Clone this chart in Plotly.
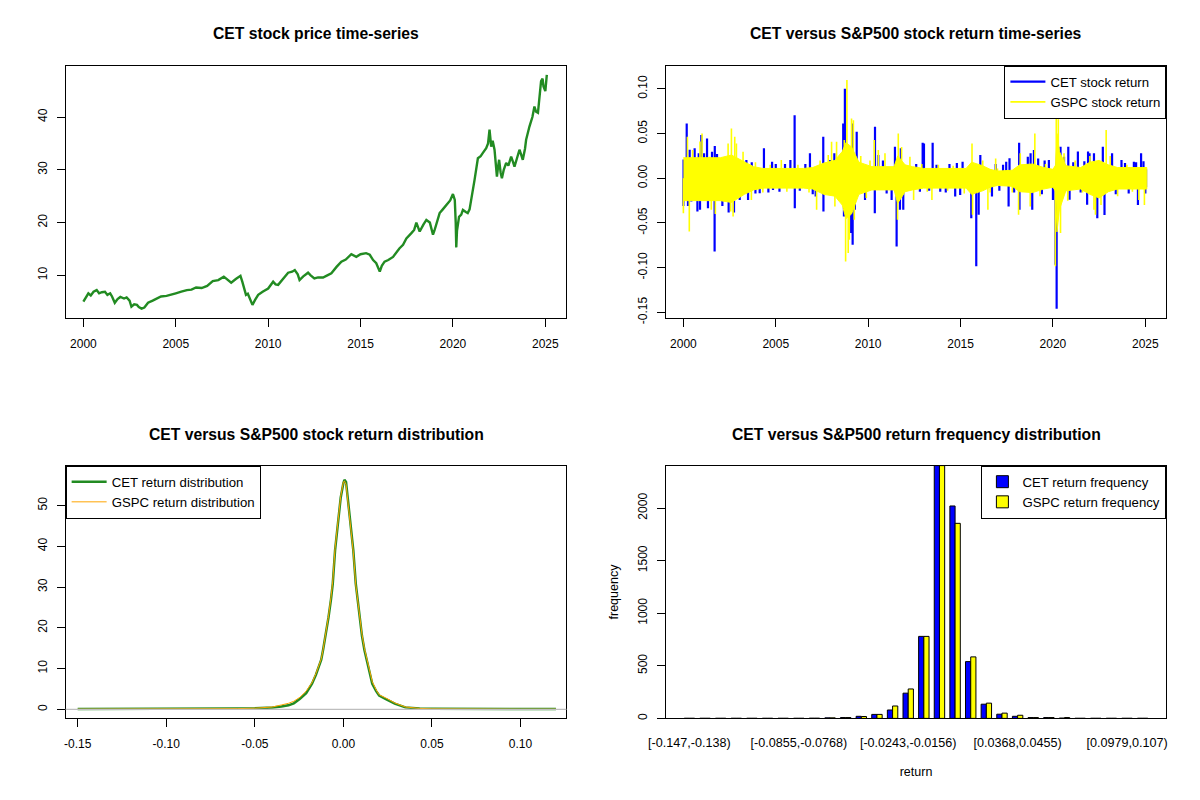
import plotly.graph_objects as go
from plotly.subplots import make_subplots

# ---- CET price (decimal years) ----
price_years = [
    2000.0, 2000.1, 2000.27, 2000.4, 2000.55, 2000.72, 2000.85, 2001.0, 2001.17, 2001.3,
    2001.45, 2001.55, 2001.7, 2001.85, 2002.0, 2002.2, 2002.34, 2002.5, 2002.6, 2002.75,
    2002.9, 2003.0, 2003.15, 2003.3, 2003.5, 2003.75, 2003.96, 2004.2, 2004.5, 2004.75,
    2005.0, 2005.3, 2005.6, 2005.85, 2006.1, 2006.4, 2006.7, 2007.0, 2007.3, 2007.6,
    2007.8, 2008.0, 2008.25, 2008.5, 2008.6, 2008.7, 2008.8, 2008.9, 2009.0, 2009.15,
    2009.3, 2009.46, 2009.7, 2010.0, 2010.27, 2010.4, 2010.54, 2010.8, 2011.08, 2011.3,
    2011.44, 2011.6, 2011.7, 2011.9, 2012.16, 2012.3, 2012.5, 2012.7, 2012.97, 2013.2,
    2013.42, 2013.7, 2013.96, 2014.2, 2014.5, 2014.77, 2015.0, 2015.3, 2015.5, 2015.68,
    2015.85, 2016.04, 2016.15, 2016.3, 2016.5, 2016.76, 2017.1, 2017.3, 2017.48, 2017.75,
    2017.9, 2018.02, 2018.2, 2018.4, 2018.56, 2018.75, 2018.92, 2019.0, 2019.28, 2019.45,
    2019.64, 2019.85, 2020.0, 2020.1, 2020.15, 2020.18, 2020.22, 2020.33, 2020.45, 2020.54,
    2020.7, 2020.8, 2020.9, 2021.0, 2021.17, 2021.35, 2021.5, 2021.62, 2021.8, 2021.9,
    2021.98, 2022.07, 2022.15, 2022.25, 2022.32, 2022.38, 2022.44, 2022.5, 2022.58, 2022.65,
    2022.75, 2022.88, 2023.0, 2023.15, 2023.25, 2023.33, 2023.45, 2023.6, 2023.7, 2023.78,
    2023.9, 2023.96, 2024.14, 2024.3, 2024.41, 2024.5, 2024.6, 2024.7, 2024.77, 2024.85,
    2024.9, 2025.0, 2025.08,
]
price_values = [
    5.0, 5.6, 6.6, 6.2, 6.9, 7.2, 6.6, 6.8, 6.9, 6.3,
    6.6, 6.0, 4.8, 5.5, 5.9, 5.6, 5.8, 5.2, 4.05, 4.5,
    4.4, 4.0, 3.7, 3.9, 4.8, 5.2, 5.6, 6.0, 6.1, 6.3,
    6.6, 6.9, 7.2, 7.3, 7.7, 7.6, 8.0, 8.9, 9.1, 9.75,
    9.2, 8.6, 9.3, 9.9, 8.8, 7.5, 6.3, 6.5, 5.6, 4.4,
    5.4, 6.3, 6.9, 7.5, 8.8, 8.3, 8.2, 9.3, 10.5, 10.7,
    11.0, 10.2, 9.1, 9.8, 10.5, 10.0, 9.4, 9.6, 9.6, 10.0,
    10.4, 11.6, 12.6, 13.0, 14.0, 13.5, 14.0, 14.2, 13.9, 12.9,
    12.3, 10.7, 11.8, 12.6, 12.9, 13.5, 15.1, 15.8, 17.0, 18.0,
    18.6, 20.0, 18.3, 19.6, 20.5, 20.0, 17.7, 18.5, 21.8, 22.5,
    23.4, 24.2, 25.4, 24.3, 20.0, 15.3, 18.5, 21.1, 21.5, 22.4,
    22.0, 21.8, 22.5, 24.9, 28.1, 32.2, 32.6, 33.2, 34.1, 35.0,
    37.6, 34.4, 35.5, 33.8, 31.0, 28.7, 30.5, 31.9, 29.5, 28.4,
    30.0, 31.3, 30.8, 32.5, 31.5, 30.6, 32.0, 33.8, 32.8, 31.9,
    34.0, 35.7, 38.2, 40.0, 42.0, 41.0, 40.8, 44.0, 46.8, 47.3,
    45.8, 44.9, 48.0,
]

# ---- daily returns: dense core band (upper / lower edge) ----
band_years = [
    2000.0, 2001.0, 2002.0, 2002.6, 2003.3, 2003.8, 2004.3, 2005.0, 2006.0, 2006.5,
    2007.0, 2007.6, 2008.2, 2008.6, 2008.8, 2009.1, 2009.5, 2010.2, 2011.4, 2011.6,
    2012.0, 2012.4, 2013.0, 2014.0, 2015.3, 2015.6, 2016.2, 2016.6, 2017.0, 2017.8,
    2018.2, 2018.9, 2019.5, 2020.0, 2020.15, 2020.22, 2020.35, 2020.7, 2021.5, 2022.0,
    2022.5, 2023.0, 2023.5, 2024.0, 2025.08,
]
gspc_hi = [
    0.023, 0.023, 0.023, 0.026, 0.018, 0.013, 0.011, 0.011, 0.011, 0.011,
    0.012, 0.017, 0.020, 0.030, 0.040, 0.035, 0.018, 0.013, 0.013, 0.025,
    0.015, 0.013, 0.011, 0.011, 0.011, 0.018, 0.014, 0.010, 0.008, 0.009,
    0.015, 0.016, 0.012, 0.010, 0.015, 0.050, 0.030, 0.014, 0.012, 0.018,
    0.020, 0.015, 0.012, 0.012, 0.012,
]
gspc_lo = [
    -0.025, -0.025, -0.025, -0.027, -0.018, -0.013, -0.011, -0.011, -0.011, -0.011,
    -0.012, -0.018, -0.020, -0.030, -0.045, -0.040, -0.018, -0.013, -0.013, -0.028,
    -0.015, -0.013, -0.011, -0.011, -0.011, -0.018, -0.014, -0.010, -0.008, -0.009,
    -0.015, -0.016, -0.012, -0.010, -0.015, -0.060, -0.035, -0.014, -0.012, -0.018,
    -0.022, -0.015, -0.012, -0.012, -0.012,
]
cet_hi = [
    0.019, 0.019, 0.019, 0.021, 0.015, 0.011, 0.009, 0.009, 0.009, 0.009,
    0.010, 0.014, 0.017, 0.025, 0.034, 0.030, 0.015, 0.011, 0.011, 0.021,
    0.013, 0.011, 0.009, 0.009, 0.009, 0.015, 0.012, 0.009, 0.007, 0.008,
    0.013, 0.014, 0.010, 0.009, 0.013, 0.042, 0.025, 0.012, 0.010, 0.015,
    0.017, 0.013, 0.010, 0.010, 0.010,
]
cet_lo = [
    -0.021, -0.021, -0.021, -0.022, -0.015, -0.011, -0.009, -0.009, -0.009, -0.009,
    -0.010, -0.015, -0.017, -0.025, -0.038, -0.034, -0.015, -0.011, -0.011, -0.024,
    -0.013, -0.011, -0.009, -0.009, -0.009, -0.015, -0.012, -0.009, -0.007, -0.008,
    -0.013, -0.014, -0.010, -0.009, -0.013, -0.050, -0.030, -0.012, -0.010, -0.015,
    -0.019, -0.013, -0.010, -0.010, -0.010,
]

# ---- daily returns: single days standing out of the band ----
cet_spike_years = [
    2000.0, 2000.01, 2000.18, 2000.25, 2000.34, 2000.43, 2000.61, 2000.76, 2000.83, 2000.9,
    2000.97, 2001.12, 2001.28, 2001.33, 2001.55, 2001.69, 2001.7, 2001.82, 2002.11, 2002.45,
    2002.74, 2003.05, 2003.41, 2003.5, 2003.7, 2003.9, 2004.13, 2004.36, 2004.6, 2004.8,
    2004.85, 2005.0, 2005.2, 2005.5, 2005.79, 2006.02, 2006.03, 2006.3, 2006.6, 2006.85,
    2007.0, 2007.16, 2007.57, 2007.58, 2007.93, 2008.17, 2008.65, 2008.69, 2008.74, 2009.07,
    2009.14, 2009.16, 2009.28, 2009.38, 2009.83, 2010.36, 2010.37, 2010.55, 2010.8, 2011.0,
    2011.27, 2011.45, 2011.54, 2011.72, 2011.77, 2011.9, 2012.6, 2012.8, 2012.95, 2013.02,
    2013.3, 2013.49, 2013.7, 2013.9, 2014.2, 2014.4, 2014.71, 2014.8, 2014.98, 2015.11,
    2015.58, 2015.85, 2015.98, 2016.07, 2016.7, 2016.9, 2017.1, 2017.3, 2017.47, 2017.6,
    2017.65, 2017.9, 2018.17, 2018.19, 2018.64, 2018.79, 2018.88, 2018.97, 2019.2, 2019.4,
    2019.55, 2019.78, 2020.0, 2020.14, 2020.2, 2020.41, 2020.6, 2020.83, 2020.9, 2021.1,
    2021.35, 2021.5, 2021.7, 2021.85, 2021.9, 2021.98, 2022.22, 2022.4, 2022.7, 2022.79,
    2023.2, 2023.4, 2023.71, 2023.9, 2024.1, 2024.38, 2024.5, 2024.6, 2024.77, 2024.9,
    2025.0,
]
cet_spike_values = [
    -0.031, 0.021, 0.0613, -0.031, 0.032, -0.026, 0.0335, -0.0372, 0.0279, -0.0353,
    0.0483, 0.0279, 0.0446, -0.0335, 0.0297, -0.0818, 0.036, 0.0271, -0.0309, -0.0383,
    -0.0383, -0.0242, 0.0204, -0.0242, 0.018, -0.017, -0.0167, 0.0335, -0.016, 0.0186,
    -0.013, 0.016, -0.015, 0.016, 0.0204, 0.0706, -0.0335, -0.014, 0.016, 0.0279,
    -0.018, -0.0204, 0.0465, -0.0372, 0.0204, 0.0279, 0.0613, -0.0428, 0.100, -0.0613,
    0.0613, -0.0743, -0.0353, 0.052, -0.0242, -0.039, 0.0576, 0.026, 0.020, -0.017,
    -0.0242, 0.0353, -0.0762, -0.0353, 0.0335, -0.0353, 0.016, -0.015, 0.0398, 0.039,
    -0.014, 0.0398, 0.015, -0.015, -0.016, 0.016, -0.0204, 0.017, -0.0186, 0.0186,
    -0.0446, -0.0985, -0.0409, 0.026, -0.0204, 0.016, -0.014, 0.015, 0.0186, -0.0316,
    0.0223, -0.016, 0.0398, -0.0353, 0.0242, 0.0279, -0.0353, 0.0316, 0.022, -0.018,
    0.020, 0.0204, -0.0242, -0.0967, -0.146, 0.0353, 0.024, 0.0353, -0.024, 0.018,
    0.030, -0.016, 0.019, -0.0297, 0.030, 0.0279, 0.0279, -0.0446, 0.0353, -0.041,
    0.028, -0.018, 0.0204, 0.017, -0.017, 0.0186, 0.018, -0.030, 0.028, 0.019,
    -0.017,
]
gspc_spike_years = [
    2000.0, 2000.22, 2000.32, 2000.5, 2000.9, 2001.01, 2001.42, 2001.51, 2001.73, 2002.42,
    2002.56, 2002.6, 2002.69, 2002.78, 2002.87, 2003.23, 2003.68, 2003.9, 2004.3, 2004.7,
    2005.3, 2005.6, 2006.2, 2006.8, 2007.21, 2007.4, 2007.84, 2008.02, 2008.2, 2008.29,
    2008.71, 2008.78, 2008.85, 2008.92, 2008.98, 2009.1, 2009.2, 2009.25, 2009.6, 2009.9,
    2010.1, 2010.33, 2010.55, 2010.91, 2011.59, 2011.63, 2011.81, 2012.26, 2012.46, 2012.9,
    2013.2, 2013.45, 2013.8, 2014.3, 2014.6, 2015.2, 2015.62, 2015.65, 2016.2, 2016.48,
    2016.6, 2016.9, 2017.0, 2017.8, 2018.14, 2018.23, 2018.77, 2019.02, 2019.3, 2019.6,
    2020.13, 2020.18, 2020.29, 2020.41, 2020.6, 2020.8, 2021.2, 2021.6, 2022.0, 2022.22,
    2022.3, 2022.6, 2022.88, 2023.1, 2023.5, 2024.0, 2024.3, 2024.65, 2024.95,
]
gspc_spike_values = [
    -0.039, 0.0465, -0.0595, 0.0316, 0.041, 0.0502, 0.0242, -0.0353, -0.040, 0.039,
    -0.0372, 0.0558, -0.0428, 0.0465, 0.039, 0.0297, -0.0242, 0.018, -0.016, 0.015,
    0.0204, -0.015, 0.015, -0.016, -0.0353, 0.020, 0.026, 0.0409, -0.0316, 0.0409,
    0.0428, -0.093, 0.110, -0.0836, -0.0688, 0.0669, 0.065, -0.0465, 0.025, -0.022,
    0.020, 0.0428, 0.0316, 0.0279, -0.0465, 0.0502, 0.035, 0.0242, -0.0242, 0.016,
    -0.015, -0.0242, 0.015, -0.014, 0.014, -0.017, 0.039, -0.0409, 0.020, -0.0353,
    -0.016, 0.022, 0.011, -0.016, -0.0409, 0.0279, -0.0316, 0.0502, -0.020, 0.016,
    -0.0985, 0.0725, 0.066, -0.0613, 0.028, -0.025, 0.020, -0.016, 0.025, -0.0353,
    -0.0409, -0.030, 0.054, 0.025, -0.020, 0.015, -0.015, -0.0242, -0.030,
]

# ---- return density (kernel estimate) ----
dens_x = [
    -0.15, -0.12, -0.10, -0.08, -0.06, -0.05, -0.045, -0.04, -0.035, -0.031,
    -0.028, -0.0245, -0.021, -0.0177, -0.0155, -0.0138, -0.0125, -0.0115, -0.01, -0.0084,
    -0.007, -0.006, -0.0047, -0.0035, -0.0029, -0.0015, 0.0, 0.0006, 0.0015, 0.0025,
    0.0037, 0.0056, 0.007, 0.0091, 0.0105, 0.0119, 0.014, 0.0163, 0.0185, 0.0202,
    0.024, 0.029, 0.035, 0.043, 0.05, 0.06, 0.07, 0.08, 0.10, 0.12,
]
cet_density = [
    0.1, 0.1, 0.1, 0.1, 0.2, 0.3, 0.35, 0.5, 0.7, 1.0,
    1.5, 2.6, 4.0, 6.3, 8.5, 10.4, 12.2, 14.5, 18.0, 22.6,
    27.0, 30.8, 39.0, 44.5, 47.1, 52.0, 55.5, 56.3, 55.8, 52.0,
    47.1, 39.0, 30.8, 22.6, 18.0, 14.5, 10.4, 6.3, 4.5, 3.4,
    2.5, 1.4, 0.5, 0.2, 0.15, 0.12, 0.1, 0.08, 0.08, 0.08,
]
gspc_density = [
    0.05, 0.05, 0.08, 0.1, 0.2, 0.3, 0.4, 0.6, 1.1, 1.5,
    2.0, 3.0, 4.5, 6.6, 8.8, 10.6, 12.4, 14.6, 18.3, 22.9,
    27.5, 31.5, 39.5, 45.0, 47.5, 52.3, 55.8, 56.0, 55.2, 51.5,
    46.5, 38.6, 30.5, 22.8, 18.4, 14.9, 10.8, 6.8, 4.8, 3.6,
    2.8, 1.6, 0.6, 0.25, 0.15, 0.1, 0.1, 0.05, 0.05, 0.05,
]

# ---- histogram (30 bins) ----
bin_ids = list(range(1, 31))
cet_freq = [1, 1, 1, 1, 1, 1, 1, 1, 2, 5, 8, 20, 38, 80, 240,
            780, 2404, 2020, 540, 135, 40, 20, 8, 8, 3, 1, 1, 1, 1, 1]
gspc_freq = [1, 1, 1, 1, 1, 1, 1, 1, 2, 5, 8, 18, 38, 118, 280,
             780, 2404, 1855, 585, 145, 50, 30, 8, 8, 8, 1, 1, 1, 1, 1]
bin_tick_ids = [1, 8, 15, 22, 29]
bin_tick_text = ["[-0.147,-0.138)", "[-0.0855,-0.0768)", "[-0.0243,-0.0156)",
                 "[0.0368,0.0455)", "[0.0979,0.107)"]

year_ticks = [2000, 2005, 2010, 2015, 2020, 2025]
price_ticks = [10, 20, 30, 40]
ret_ticks = [-0.15, -0.10, -0.05, 0.0, 0.05, 0.10]
ret_tick_text = ["-0.15", "-0.10", "-0.05", "0.00", "0.05", "0.10"]
dens_ticks = [0, 10, 20, 30, 40, 50]
freq_ticks = [0, 500, 1000, 1500, 2000]

titles = ["CET stock price time-series", "CET versus S&P500 stock return time-series",
          "CET versus S&P500 stock return distribution", "CET versus S&P500 return frequency distribution"]

FONT = "Liberation Sans, Arial, sans-serif"
BLUE, YELLOW = "#0000FF", "#FFFF00"
GREEN, ORANGE = "#228B22", "#FFA500"

fig = make_subplots(rows=2, cols=2)

# price
fig.add_trace(go.Scatter(x=price_years, y=price_values, mode="lines",
                         line=dict(color=GREEN, width=2.4), showlegend=False), row=1, col=1)


def band(years, hi, lo):
    return years + years[::-1], hi + lo[::-1]


def spikes(years, vals):
    xs, ys = [], []
    for t, v in zip(years, vals):
        xs += [t, t, None]
        ys += [0, v, None]
    return xs, ys


bx, by = band(band_years, cet_hi, cet_lo)
fig.add_trace(go.Scatter(x=bx, y=by, mode="lines", fill="toself", fillcolor=BLUE,
                         line=dict(color=BLUE, width=0.5), showlegend=False), row=1, col=2)
sx, sy = spikes(cet_spike_years, cet_spike_values)
fig.add_trace(go.Scatter(x=sx, y=sy, mode="lines", name="CET stock return", legend="legend",
                         line=dict(color=BLUE, width=2.2)), row=1, col=2)
bx, by = band(band_years, gspc_hi, gspc_lo)
fig.add_trace(go.Scatter(x=bx, y=by, mode="lines", fill="toself", fillcolor=YELLOW,
                         line=dict(color=YELLOW, width=1), showlegend=False), row=1, col=2)
sx, sy = spikes(gspc_spike_years, gspc_spike_values)
fig.add_trace(go.Scatter(x=sx, y=sy, mode="lines", name="GSPC stock return", legend="legend",
                         line=dict(color=YELLOW, width=1.6)), row=1, col=2)

# density
fig.add_shape(type="line", xref="x3 domain", yref="y3", x0=0, x1=1, y0=0, y1=0,
              line=dict(color="#BEBEBE", width=1.2))
fig.add_trace(go.Scatter(x=dens_x, y=cet_density, mode="lines", name="CET return distribution",
                         legend="legend2", line=dict(color=GREEN, width=2.5)), row=2, col=1)
fig.add_trace(go.Scatter(x=dens_x, y=gspc_density, mode="lines", name="GSPC return distribution",
                         legend="legend2", line=dict(color=ORANGE, width=1)), row=2, col=1)

# histogram
fig.add_trace(go.Bar(x=bin_ids, y=cet_freq, name="CET return frequency", legend="legend3",
                     marker=dict(color=BLUE, line=dict(color="black", width=1))), row=2, col=2)
fig.add_trace(go.Bar(x=bin_ids, y=gspc_freq, name="GSPC return frequency", legend="legend3",
                     marker=dict(color=YELLOW, line=dict(color="black", width=1))), row=2, col=2)

xdom = [[0.0547, 0.472], [0.5547, 0.972]]
ydom = [[0.602, 0.918], [0.102, 0.418]]

axis_common = dict(showline=True, mirror=True, linecolor="black", linewidth=1,
                   showgrid=False, zeroline=False, ticks="outside", ticklen=8,
                   tickcolor="black", automargin=False,
                   tickfont=dict(family=FONT, size=12, color="black"))

legend_common = dict(bgcolor="white", bordercolor="black", borderwidth=1,
                     font=dict(family=FONT, size=13.2, color="black"), tracegroupgap=0)
title_font = dict(family=FONT, size=12.5, color="black")

fig.update_layout(
    xaxis=dict(axis_common, domain=xdom[0], range=[1999.04, 2026.14], tickvals=year_ticks,
               ticklabelstandoff=6),
    yaxis=dict(axis_common, domain=ydom[0], range=[1.84, 49.75], tickvals=price_ticks,
               tickangle=-90, ticklabelstandoff=5),
    xaxis2=dict(axis_common, domain=xdom[1], range=[1999.04, 2026.14], tickvals=year_ticks,
                ticklabelstandoff=6),
    yaxis2=dict(axis_common, domain=ydom[0], range=[-0.1567, 0.126], tickvals=ret_ticks,
                ticktext=ret_tick_text, tickangle=-90, ticklabelstandoff=5),
    xaxis3=dict(axis_common, domain=xdom[0], range=[-0.1568, 0.1259], tickvals=ret_ticks,
                ticktext=ret_tick_text, ticklabelstandoff=6),
    yaxis3=dict(axis_common, domain=ydom[1], range=[-2.2, 59.8], tickvals=dens_ticks,
                tickangle=-90, ticklabelstandoff=5),
    xaxis4=dict(axis_common, domain=xdom[1], range=[-0.52, 31.52], tickvals=bin_tick_ids,
                ticktext=bin_tick_text, ticks="", ticklabelstandoff=12,
                tickfont=dict(family=FONT, size=12.6, color="black"),
                title=dict(text="return", font=title_font, standoff=18)),
    yaxis4=dict(axis_common, domain=ydom[1], range=[0, 2404], tickvals=freq_ticks,
                tickangle=-90, ticklabelstandoff=5,
                title=dict(text="frequency", font=title_font, standoff=14)),
    barmode="group", bargap=1 / 3, bargroupgap=0,
    legend=dict(legend_common, x=0.972, xanchor="right", y=0.918, yanchor="top", itemwidth=35),
    legend2=dict(legend_common, x=0.0547, xanchor="left", y=0.418, yanchor="top", itemwidth=35),
    legend3=dict(legend_common, x=0.972, xanchor="right", y=0.418, yanchor="top", itemwidth=30),
    width=1200, height=800,
    margin=dict(l=0, r=0, t=0, b=0, pad=0, autoexpand=False),
    paper_bgcolor="white", plot_bgcolor="white",
    font=dict(family=FONT, size=12, color="black"),
)

centres = [(sum(xdom[0]) / 2, 1 - 34 / 800), (sum(xdom[1]) / 2, 1 - 34 / 800),
           (sum(xdom[0]) / 2, 1 - 434 / 800), (sum(xdom[1]) / 2, 1 - 434 / 800)]
for (cx, cy), t in zip(centres, titles):
    fig.add_annotation(text="<b>" + t + "</b>", x=cx, y=cy, xref="paper", yref="paper",
                       showarrow=False, xanchor="center", yanchor="middle",
                       font=dict(family=FONT, size=15.7, color="black"))

# page body has a default 8px margin; drop it so the figure sits at the window corner
fig.write_html("out.html", config={"displayModeBar": False},
               post_script="document.body.style.margin='0px';")
